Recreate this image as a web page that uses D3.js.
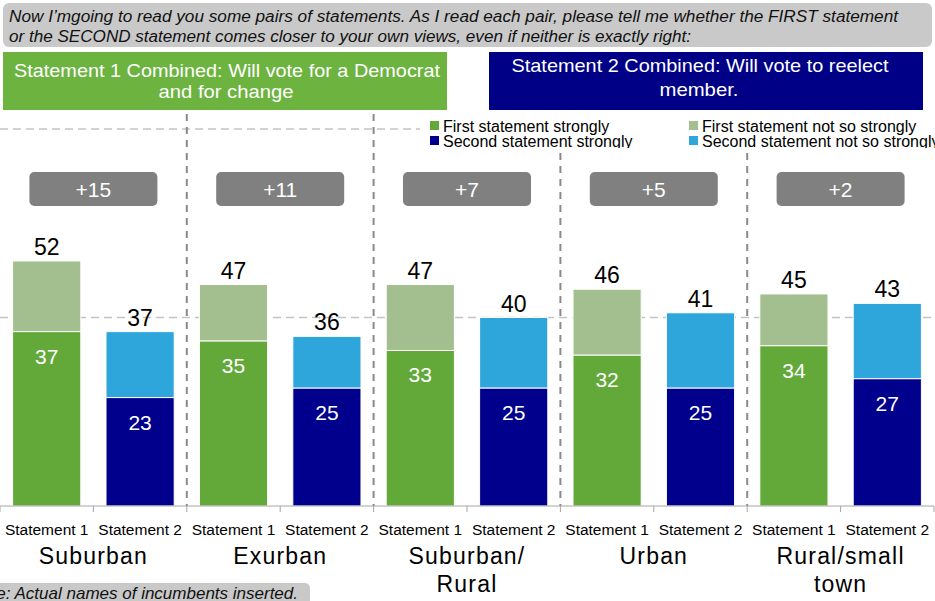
<!DOCTYPE html>
<html>
<head>
<meta charset="utf-8">
<script src="https://cdn.jsdelivr.net/npm/d3@7"></script>
<style>
  html, body { margin: 0; padding: 0; background: #fff; }
  svg { display: block; font-family: "Liberation Sans", Arial, sans-serif; }
</style>
</head>
<body>
<svg id="chart" width="935" height="601"></svg>
<script>
// Community types and the two stacked bars in each
const categories = ["Suburban", "Exurban", "Suburban/Rural", "Urban", "Rural/small town"];
const categoryLines = [["Suburban"], ["Exurban"], ["Suburban/", "Rural"], ["Urban"], ["Rural/small", "town"]];
const barLabels = ["Statement 1", "Statement 2"];

// Statement 1: strongly / combined total
const firstStrong = [37, 35, 33, 32, 34];
const firstTotal = [52, 47, 47, 46, 45];
// Statement 2: strongly / combined total
const secondStrong = [23, 25, 25, 25, 27];
const secondTotal = [37, 36, 40, 41, 43];
// Net advantage of statement 1
const margins = ["+15", "+11", "+7", "+5", "+2"];

const yTicks = [40, 80];
const legendItems = [
  { label: "First statement strongly", color: "#62a93a" },
  { label: "First statement not so strongly", color: "#a3bf8f" },
  { label: "Second statement strongly", color: "#00008c" },
  { label: "Second statement not so strongly", color: "#2ea6dc" }
];

const svg = d3.select("#chart");

// ---- header ----
svg.append("rect").attr("x", 3).attr("y", 3).attr("width", 929).attr("height", 44)
  .attr("rx", 6).attr("fill", "#c9c9c9");
const header = [
  { t: "Now I\u2019mgoing to read you some pairs of statements. As I read each pair, please tell me whether the FIRST statement", y: 22, len: 889 },
  { t: "or the SECOND statement comes closer to your own views, even if neither is exactly right:", y: 42, len: 682 }
];
header.forEach(h => {
  svg.append("text").attr("x", 9).attr("y", h.y).text(h.t)
    .attr("font-size", 16).attr("font-style", "italic").attr("fill", "#111")
    .attr("textLength", h.len).attr("lengthAdjust", "spacingAndGlyphs");
});

// Statement boxes
svg.append("rect").attr("x", 3).attr("y", 52).attr("width", 444).attr("height", 58).attr("fill", "#6db33f");
svg.append("rect").attr("x", 489).attr("y", 52).attr("width", 434).attr("height", 58).attr("fill", "#000087");
[
  { t: "Statement 1 Combined: Will vote for a Democrat", x: 227, y: 77, len: 426 },
  { t: "and for change", x: 226, y: 98, len: 135 },
  { t: "Statement 2 Combined: Will vote to reelect", x: 700, y: 72, len: 377 },
  { t: "member.", x: 699, y: 96, len: 79 }
].forEach(d => {
  svg.append("text").attr("x", d.x).attr("y", d.y).text(d.t)
    .attr("text-anchor", "middle").attr("font-size", 19).attr("fill", "#fff")
    .attr("textLength", d.len).attr("lengthAdjust", "spacingAndGlyphs");
});

// ---- scales ----
const slots = [];
categories.forEach((c, i) => barLabels.forEach((b, j) => slots.push(i + "-" + j)));
const x = d3.scaleBand().domain(slots).range([0, 934]).paddingInner(0.27).paddingOuter(0.135);
const y = d3.scaleLinear().domain([0, 80]).range([506, 129]);
const step = x.step();

// gridlines
svg.append("g").selectAll("line").data(yTicks).join("line")
  .attr("x1", 0).attr("x2", 934)
  .attr("y1", d => y(d)).attr("y2", d => y(d))
  .attr("stroke", "#c3c3c3").attr("stroke-width", 1.3).attr("stroke-dasharray", "8,5");

// group separators
svg.append("g").selectAll("line").data(d3.range(1, categories.length)).join("line")
  .attr("x1", d => d * 2 * step).attr("x2", d => d * 2 * step)
  .attr("y1", 114).attr("y2", y(0))
  .attr("stroke", "#8a8a8a").attr("stroke-width", 2).attr("stroke-dasharray", "7,6");

// ---- bars ----
const bars = [];
categories.forEach((c, i) => {
  bars.push({ key: i + "-0", strong: firstStrong[i], total: firstTotal[i], c1: legendItems[0].color, c2: legendItems[1].color });
  bars.push({ key: i + "-1", strong: secondStrong[i], total: secondTotal[i], c1: legendItems[2].color, c2: legendItems[3].color });
});

const gBars = svg.append("g");
bars.forEach(b => {
  const bx = x(b.key), bw = x.bandwidth();
  gBars.append("rect").attr("x", bx).attr("y", y(b.total)).attr("width", bw)
    .attr("height", y(b.strong) - y(b.total)).attr("fill", b.c2)
    .attr("stroke", "#fff").attr("stroke-width", 1);
  gBars.append("rect").attr("x", bx).attr("y", y(b.strong)).attr("width", bw)
    .attr("height", y(0) - y(b.strong)).attr("fill", b.c1)
    .attr("stroke", "#fff").attr("stroke-width", 1);
  gBars.append("text").attr("x", bx + bw / 2).attr("y", y(b.total) - 6)
    .attr("text-anchor", "middle").attr("font-size", 23).attr("fill", "#000").text(b.total);
  gBars.append("text").attr("x", bx + bw / 2).attr("y", y(b.strong) + 32)
    .attr("text-anchor", "middle").attr("font-size", 21).attr("fill", "#fff").text(b.strong);
});

// ---- x axis ----
svg.append("line").attr("x1", 0).attr("x2", 934).attr("y1", y(0)).attr("y2", y(0))
  .attr("stroke", "#a6a6a6").attr("stroke-width", 1);
svg.append("g").selectAll("line").data(d3.range(0, slots.length + 1)).join("line")
  .attr("x1", d => d * step).attr("x2", d => d * step)
  .attr("y1", y(0)).attr("y2", y(0) + 6)
  .attr("stroke", "#a6a6a6").attr("stroke-width", 1);

svg.append("g").selectAll("text").data(slots).join("text")
  .attr("x", d => x(d) + x.bandwidth() / 2).attr("y", 535)
  .attr("text-anchor", "middle").attr("font-size", 15.5).attr("fill", "#000")
  .text(d => barLabels[+d.split("-")[1]]);

categoryLines.forEach((lines, i) => {
  const cx = (i * 2 + 1) * step;
  lines.forEach((ln, k) => {
    svg.append("text").attr("x", cx).attr("y", 564 + k * 28)
      .attr("text-anchor", "middle").attr("font-size", 23).attr("letter-spacing", 1.2)
      .attr("fill", "#000").text(ln);
  });
});

// ---- margin badges ----
margins.forEach((m, i) => {
  const cx = (i * 2 + 1) * step;
  svg.append("rect").attr("x", cx - 64).attr("y", 172).attr("width", 128).attr("height", 34)
    .attr("rx", 5).attr("fill", "#808080");
  svg.append("text").attr("x", cx).attr("y", 197).attr("text-anchor", "middle")
    .attr("font-size", 21).attr("fill", "#fff").text(m);
});

// ---- legend ----
svg.append("defs").append("clipPath").attr("id", "legendClip")
  .append("rect").attr("x", 420).attr("y", 112).attr("width", 515).attr("height", 36);
svg.append("rect").attr("x", 420).attr("y", 112).attr("width", 515).attr("height", 36).attr("fill", "#fff");
const gLeg = svg.append("g").attr("clip-path", "url(#legendClip)");
legendItems.forEach((d, i) => {
  const lx = i % 2 === 0 ? 430 : 689;
  const ly = i < 2 ? 126 : 141;
  gLeg.append("rect").attr("x", lx).attr("y", ly - 5).attr("width", 9).attr("height", 9).attr("fill", d.color);
  gLeg.append("text").attr("x", lx + 13).attr("y", ly + 5.5).attr("font-size", 16).attr("fill", "#000").text(d.label);
});

// ---- footnote ----
svg.append("rect").attr("x", -10).attr("y", 583).attr("width", 320).attr("height", 30)
  .attr("rx", 5).attr("fill", "#c9c9c9");
svg.append("text").attr("x", 298).attr("y", 599).attr("text-anchor", "end")
  .attr("font-size", 17).attr("font-style", "italic").attr("fill", "#111")
  .text("Note: Actual names of incumbents inserted.");
</script>
</body>
</html>
